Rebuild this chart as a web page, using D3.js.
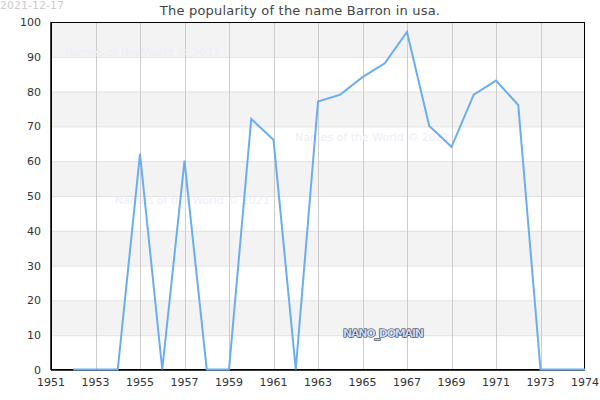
<!DOCTYPE html>
<html><head><meta charset="utf-8">
<script src="https://cdn.jsdelivr.net/npm/d3@7"></script>
<style>body{margin:0;background:#fff;}svg{display:block;font-family:"DejaVu Sans",sans-serif;}</style>
</head><body>
<svg id="c" width="600" height="400"></svg>
<script>
const years = [1952,1953,1954,1955,1956,1957,1958,1959,1960,1961,1962,1963,1964,1965,1966,1967,1968,1969,1970,1971,1972,1973,1974,1975];
const values = [0,0,0,62,0,60,0,0,72,66,0,77,79,84,88,97,70,64,79,83,76,0,0,0];
const xTicks = [1951,1953,1955,1957,1959,1961,1963,1965,1967,1969,1971,1973];
const xEndLabel = "1974";
const yTicks = [0,10,20,30,40,50,60,70,80,90,100];
const title = "The popularity of the name Barron in usa.";
const dateText = "2021-12-17";
const watermark = "Names of the World © 2021";

const svg = d3.select("#c");
const L=51,R=585,T=22,B=370;
const x = d3.scaleLinear().domain([1951,1975]).range([L,R]);
const y = d3.scaleLinear().domain([0,100]).range([B,T]);

// bands
for (let v=10; v<100; v+=20) {
  svg.append("rect").attr("x",L).attr("width",R-L).attr("y",y(v+10)).attr("height",y(v)-y(v+10)).attr("fill","#f3f3f3");
}
// horizontal grid
svg.append("g").selectAll("line").data(yTicks).join("line")
  .attr("x1",L).attr("x2",R).attr("y1",d=>y(d)+0.5).attr("y2",d=>y(d)+0.5).attr("stroke","#e2e2e2");
// vertical grid
svg.append("g").selectAll("line").data(xTicks.slice(1)).join("line")
  .attr("x1",d=>Math.round(x(d))+0.5).attr("x2",d=>Math.round(x(d))+0.5).attr("y1",T).attr("y2",B).attr("stroke","#cccccc");

// watermarks
const wm=[[65,56],[295,141],[115,204]];
svg.append("g").selectAll("text").data(wm).join("text")
  .attr("x",d=>d[0]).attr("y",d=>d[1]).text(watermark)
  .attr("font-size",11).attr("fill","#eeeef9");

// frame
svg.append("rect").attr("x",L+0.5).attr("y",T+0.5).attr("width",R-L-1).attr("height",B-T-1)
  .attr("fill","none").attr("stroke","#000").attr("stroke-width",1);
svg.append("line").attr("x1",L).attr("x2",R).attr("y1",B).attr("y2",B).attr("stroke","#000").attr("stroke-width",1.5);
svg.append("line").attr("x1",L).attr("x2",L).attr("y1",T).attr("y2",B).attr("stroke","#000").attr("stroke-width",1.5);

// line
svg.append("path").datum(years.map((d,i)=>[d,values[i]]))
  .attr("fill","none").attr("stroke","#6aaef0").attr("stroke-width",2)
  .attr("d",d3.line().x(d=>x(d[0])).y(d=>y(d[1])-0.5));

// y labels
svg.append("g").selectAll("text").data(yTicks).join("text")
  .attr("x",41).attr("y",d=>y(d)+4).attr("text-anchor","end")
  .attr("font-size",11).attr("fill","#333").text(d=>d);
// x labels
svg.append("g").selectAll("text").data(xTicks).join("text")
  .attr("x",d=>x(d)).attr("y",386).attr("text-anchor","middle")
  .attr("font-size",11).attr("fill","#333").text(d=>d);
svg.append("text").attr("x",R).attr("y",386).attr("text-anchor","middle")
  .attr("font-size",11).attr("fill","#333").text(xEndLabel);

// title
svg.append("text").attr("x",300).attr("y",15).attr("text-anchor","middle")
  .attr("font-size",13).attr("fill","#444").attr("letter-spacing",0.2).text(title);
svg.append("text").attr("x",0).attr("y",9).attr("font-size",11).attr("fill","#cccccc").text(dateText);

// nano domain
svg.append("text").attr("x",343).attr("y",337).text("NANO_DOMAIN")
  .attr("font-size",11).attr("font-weight","bold").attr("fill","#c8d8f0")
  .attr("stroke","#223355").attr("stroke-width",1.2).attr("paint-order","stroke").attr("letter-spacing",-1.2);
</script>
</body></html>
